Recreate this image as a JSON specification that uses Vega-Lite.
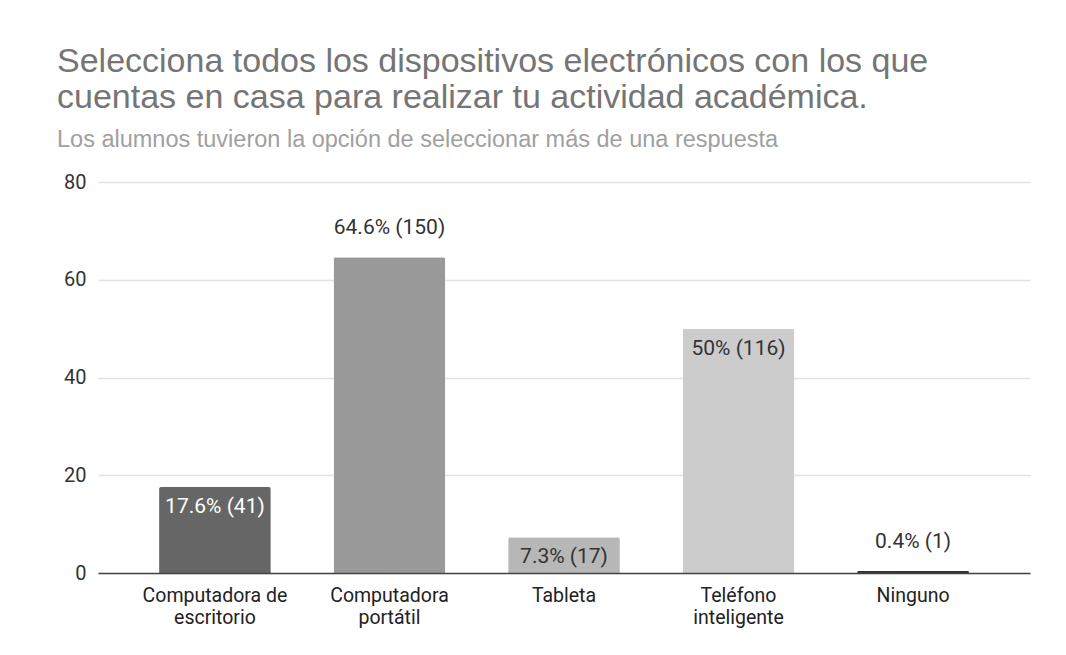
{
  "$schema": "https://vega.github.io/schema/vega-lite/v6.json",
  "autosize": "none",
  "width": 932,
  "height": 391,
  "padding": {"left": 98, "top": 182, "right": 36, "bottom": 82},
  "background": "white",
  "config": {"view": {"stroke": null}},
  "title": {
    "text": ["Selecciona todos los dispositivos electrónicos con los que", "cuentas en casa para realizar tu actividad académica."],
    "subtitle": "Los alumnos tuvieron la opción de seleccionar más de una respuesta",
    "anchor": "start",
    "frame": "group",
    "dx": -41,
    "offset": 21,
    "font": "Liberation Sans",
    "fontSize": 34,
    "fontWeight": "normal",
    "color": "#757575",
    "lineHeight": 36,
    "subtitleFont": "Liberation Sans",
    "subtitleFontSize": 23.5,
    "subtitleColor": "#a0a0a0",
    "subtitlePadding": 13
  },
  "data": {
    "values": [
      {"cat": "Computadora de escritorio", "label": "Computadora de|escritorio", "pct": 17.6, "n": 41, "txt": "17.6% (41)"},
      {"cat": "Computadora portátil", "label": "Computadora|portátil", "pct": 64.6, "n": 150, "txt": "64.6% (150)"},
      {"cat": "Tableta", "label": "Tableta", "pct": 7.3, "n": 17, "txt": "7.3% (17)"},
      {"cat": "Teléfono inteligente", "label": "Teléfono|inteligente", "pct": 50, "n": 116, "txt": "50% (116)"},
      {"cat": "Ninguno", "label": "Ninguno", "pct": 0.4, "n": 1, "txt": "0.4% (1)"}
    ]
  },
  "encoding": {
    "x": {
      "field": "label",
      "type": "nominal",
      "sort": null,
      "scale": {"paddingInner": 0.36, "paddingOuter": 0.35},
      "axis": {
        "title": null,
        "labelAngle": 0,
        "ticks": false,
        "labelPadding": 13,
        "labelExpr": "split(datum.label, '|')",
        "labelFont": "Roboto",
        "labelFontSize": 19.5,
        "labelLineHeight": 22,
        "labelColor": "#222222",
        "domainColor": "#444444",
        "domainWidth": 1.5,
        "zindex": 1
      }
    },
    "y": {
      "field": "pct",
      "type": "quantitative",
      "scale": {"domain": [0, 80], "nice": false},
      "axis": {
        "title": null,
        "values": [0, 20, 40, 60, 80],
        "domain": false,
        "ticks": false,
        "labelPadding": 12,
        "labelFont": "Roboto",
        "labelFontSize": 20,
        "labelColor": "#333333",
        "gridColor": "#e2e2e2",
        "gridWidth": 1.5
      }
    }
  },
  "layer": [
    {
      "mark": {"type": "bar", "cornerRadiusTopLeft": 2, "cornerRadiusTopRight": 2},
      "encoding": {
        "color": {
          "field": "cat",
          "type": "nominal",
          "scale": {
            "domain": ["Computadora de escritorio", "Computadora portátil", "Tableta", "Teléfono inteligente", "Ninguno"],
            "range": ["#666666", "#999999", "#b7b7b7", "#cccccc", "#333333"]
          },
          "legend": null
        }
      }
    },
    {
      "transform": [{"filter": "datum.cat != 'Computadora portátil' && datum.cat != 'Ninguno'"}],
      "mark": {"type": "text", "baseline": "middle", "dy": 20, "font": "Roboto", "fontSize": 21},
      "encoding": {
        "text": {"field": "txt"},
        "color": {
          "condition": {"test": "datum.cat == 'Computadora de escritorio'", "value": "#ffffff"},
          "value": "#333333"
        }
      }
    },
    {
      "transform": [{"filter": "datum.cat == 'Computadora portátil' || datum.cat == 'Ninguno'"}],
      "mark": {"type": "text", "baseline": "middle", "dy": -29, "font": "Roboto", "fontSize": 21, "color": "#333333"},
      "encoding": {
        "text": {"field": "txt"}
      }
    }
  ]
}
